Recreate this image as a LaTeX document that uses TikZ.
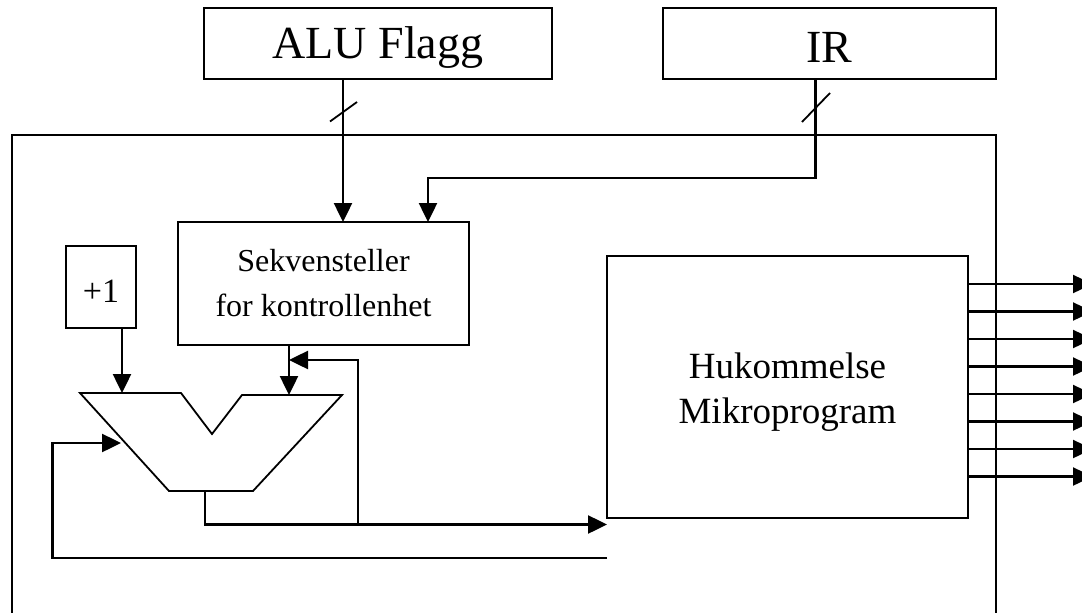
\documentclass[tikz,border=0pt]{standalone}
\usepackage{fontspec}
\setmainfont{Liberation Serif}
\usetikzlibrary{arrows.meta}
\begin{document}
\begin{tikzpicture}[x=1pt,y=-1pt,
  line width=2.5pt,
  box/.style={draw,rectangle,inner sep=0pt,outer sep=0pt,align=center},
  bigtext/.style={font=\fontsize{46}{50}\selectfont},
  midtext/.style={font=\fontsize{32}{45}\selectfont},
  hutext/.style={font=\fontsize{37}{45}\selectfont},
  conn/.style={-{Triangle[length=19pt,width=18pt]}},
  wire/.style={line width=2.5pt},
  slash/.style={line width=1.8pt},
  muxline/.style={line width=1.8pt,line join=miter}]
\useasboundingbox (0,0) rectangle (1082,613);
\clip (0,0) rectangle (1082,613);

% enclosing control unit frame (runs past the lower edge)
\draw[wire] (12,640) -- (12,135) -- (996,135) -- (996,640);

% blocks
\node[box,minimum width=348pt,minimum height=71pt] (alu) at (378,43.5) {};
\node[bigtext] at ([yshift=-4pt]alu.center) {ALU Flagg};
\node[box,minimum width=333pt,minimum height=71pt] (ir) at (829.5,43.5) {};
\node[bigtext] at ([yshift=-4pt]ir.center) {IR};
\node[box,midtext,minimum width=291pt,minimum height=123pt] (sek) at (323.5,283.5) {Sekvensteller\\for kontrollenhet};
\node[box,minimum width=70pt,minimum height=82pt] (plus) at (101,287) {};
\node[font=\fontsize{34}{40}\selectfont] at ([yshift=-4pt]plus.center) {+1};
\node[box,minimum width=361pt,minimum height=262pt] (huk) at (787.5,387) {};
\node[hutext,align=center] at ([yshift=-5pt]huk.center) {Hukommelse\\Mikroprogram};

% multiplexer outline
\coordinate (mA) at (80,393);
\coordinate (mB) at (181,393);
\coordinate (mV) at (212,434);
\coordinate (mC) at (242,395);
\coordinate (mD) at (342,395);
\coordinate (mE) at (253,491);
\coordinate (mF) at (169,491);
\draw[muxline] (mA) -- (mB) -- (mV) -- (mC) -- (mD) -- (mE) -- (mF) -- cycle;
\coordinate (muxIn1) at (122,393);
\coordinate (muxIn2) at (289,395);
\coordinate (muxIn3) at (121,443);
\coordinate (muxOut) at (205,491);

% ALU flags into the sequencer
\draw[conn] (alu.south -| 343,0) -- (sek.north -| 343,0);
\draw[slash] (330,121.5) -- (357,102);

% IR into the sequencer
\draw[conn] (ir.south -| 815.5,0) -- (815.5,178) -- (428,178) -- (sek.north -| 428,0);
\draw[slash] (802,122) -- (830,93);

% inputs of the multiplexer
\draw[conn] (plus.south -| muxIn1) -- (muxIn1);
\draw[conn] (sek.south -| muxIn2) -- (muxIn2);

% multiplexer output to the microprogram memory, with branch back to the sequencer
\draw[conn] (muxOut) -- (205,524.5) -- (huk.west |- 0,524.5);
\draw[conn] (358,524.5) -- (358,360) -- (289,360);

% feedback from memory into the multiplexer
\draw[conn] (huk.west |- 0,558) -- (52.6,558) -- (52.6,443) -- (muxIn3);

% control outputs
\foreach \k in {0,...,7} {
  \draw[conn] (huk.east |- 0,{284+27.5*\k}) -- (1092,{284+27.5*\k});
}
\end{tikzpicture}
\end{document}
